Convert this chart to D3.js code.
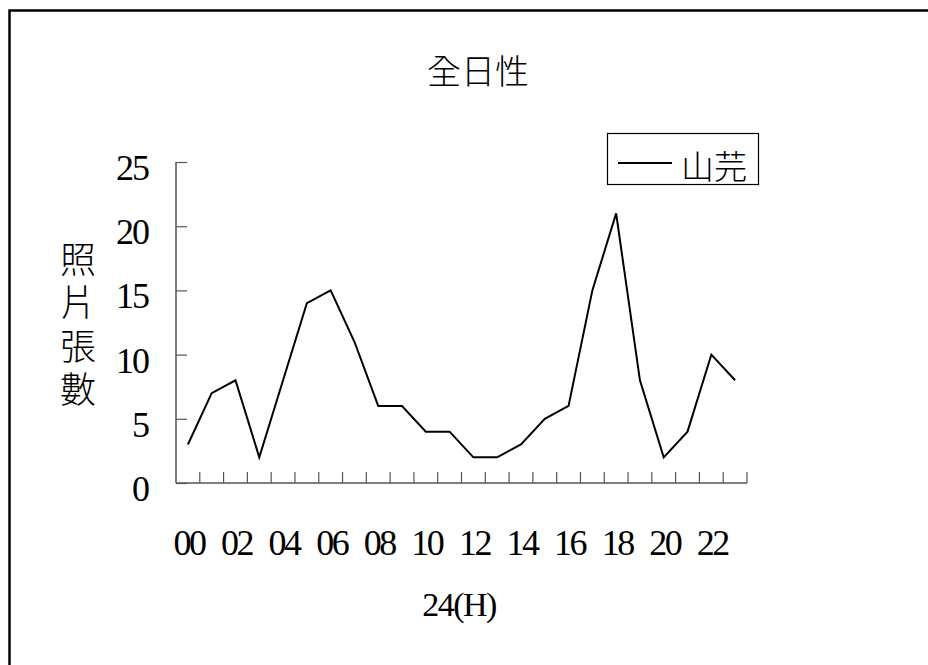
<!DOCTYPE html>
<html>
<head>
<meta charset="utf-8">
<script src="https://cdn.jsdelivr.net/npm/d3@7"></script>
<style>
  html, body { margin: 0; padding: 0; background: #fff; }
  svg { display: block; }
</style>
</head>
<body>
<svg id="chart" width="928" height="665"></svg>
<script>
const hours = ["00","01","02","03","04","05","06","07","08","09","10","11","12","13","14","15","16","17","18","19","20","21","22","23"];
const counts = [3,7,8,2,8,14,15,11,6,6,4,4,2,2,3,5,6,15,21,8,2,4,10,8];
const yTicks = [0,5,10,15,20,25];
const xLabelHours = ["00","02","04","06","08","10","12","14","16","18","20","22"];
const title = "全日性";
const seriesName = "山芫";
const yTitle = "照片張數";
const xTitle = "24(H)";

(function () {
const svg = d3.select("#chart");
const serif = "'Liberation Serif', 'DejaVu Serif', serif";
const cjk = "'Noto Sans CJK TC', 'Noto Sans CJK SC', sans-serif";

// outer frame (top and left edges visible)
svg.append("path")
  .attr("d", "M9.5,670 L9.5,10.5 L935,10.5")
  .attr("fill", "none").attr("stroke", "#000").attr("stroke-width", 2.5);

const pLeft = 176, pRight = 747, pTop = 162, pBottom = 483;
const x = d3.scaleBand().domain(hours).range([pLeft, pRight]).paddingInner(0).paddingOuter(0);
const y = d3.scaleLinear().domain([0, 25]).range([pBottom, pTop]);

// Y axis
const yAxis = d3.axisRight(y).tickValues(yTicks).tickSize(11).tickFormat("");
const gy = svg.append("g").attr("transform", `translate(${pLeft},0)`).call(yAxis);
gy.select(".domain").attr("stroke", "#555").attr("stroke-width", 1.5).attr("d", `M0,${pTop}V${pBottom}`);
gy.selectAll(".tick line").attr("stroke", "#555").attr("stroke-width", 1.2);

// Y tick labels
svg.append("g").selectAll("text").data(yTicks).join("text")
  .attr("x", 148).attr("y", d => y(d) + 6)
  .attr("text-anchor", "end").attr("dominant-baseline", "central")
  .attr("font-family", serif).attr("font-size", 36).attr("letter-spacing", -2)
  .text(d => d);

// X axis with tick marks at category boundaries
const boundaries = hours.map(h => x(h) + x.bandwidth());
const gx = svg.append("g");
gx.append("line").attr("x1", pLeft).attr("x2", pRight).attr("y1", pBottom).attr("y2", pBottom)
  .attr("stroke", "#555").attr("stroke-width", 1.5);
gx.selectAll("line.tk").data(boundaries).join("line").attr("class", "tk")
  .attr("x1", d => d).attr("x2", d => d).attr("y1", pBottom).attr("y2", pBottom - 11)
  .attr("stroke", "#555").attr("stroke-width", 1.2);

// X labels
svg.append("g").selectAll("text").data(xLabelHours).join("text")
  .attr("x", d => x(d) + x.bandwidth() / 2 + 1).attr("y", 555)
  .attr("text-anchor", "middle")
  .attr("font-family", serif).attr("font-size", 36).attr("letter-spacing", -2.5)
  .text(d => d);

// line
const line = d3.line().x((d, i) => x(hours[i]) + x.bandwidth() / 2).y(d => y(d));
svg.append("path").datum(counts).attr("d", line)
  .attr("fill", "none").attr("stroke", "#000").attr("stroke-width", 2).attr("stroke-linejoin", "miter");

// title
svg.append("text").attr("x", 478).attr("y", 69).attr("text-anchor", "middle")
  .attr("dominant-baseline", "central").attr("font-family", cjk).attr("font-size", 34)
  .attr("font-weight", 300).text(title);

// y title (vertical)
svg.append("text")
  .attr("x", 78).attr("y", 241)
  .attr("style", "writing-mode: vertical-rl; text-orientation: upright;")
  .attr("text-anchor", "start")
  .attr("font-family", cjk).attr("font-size", 36).attr("font-weight", 300)
  .attr("letter-spacing", 7.5)
  .text(yTitle);

// x title
svg.append("text").attr("x", 459).attr("y", 604).attr("text-anchor", "middle")
  .attr("dominant-baseline", "central").attr("font-family", serif).attr("font-size", 34)
  .attr("letter-spacing", -1.5).text(xTitle);

// legend
const lg = svg.append("g");
lg.append("rect").attr("x", 607.5).attr("y", 133.5).attr("width", 151).attr("height", 51)
  .attr("fill", "#fff").attr("stroke", "#000").attr("stroke-width", 1.2);
lg.append("line").attr("x1", 618).attr("x2", 672).attr("y1", 163).attr("y2", 163)
  .attr("stroke", "#000").attr("stroke-width", 2);
lg.append("text").attr("x", 681).attr("y", 165).attr("dominant-baseline", "central")
  .attr("font-family", cjk).attr("font-size", 33).attr("font-weight", 300).text(seriesName);
})();
</script>
</body>
</html>
